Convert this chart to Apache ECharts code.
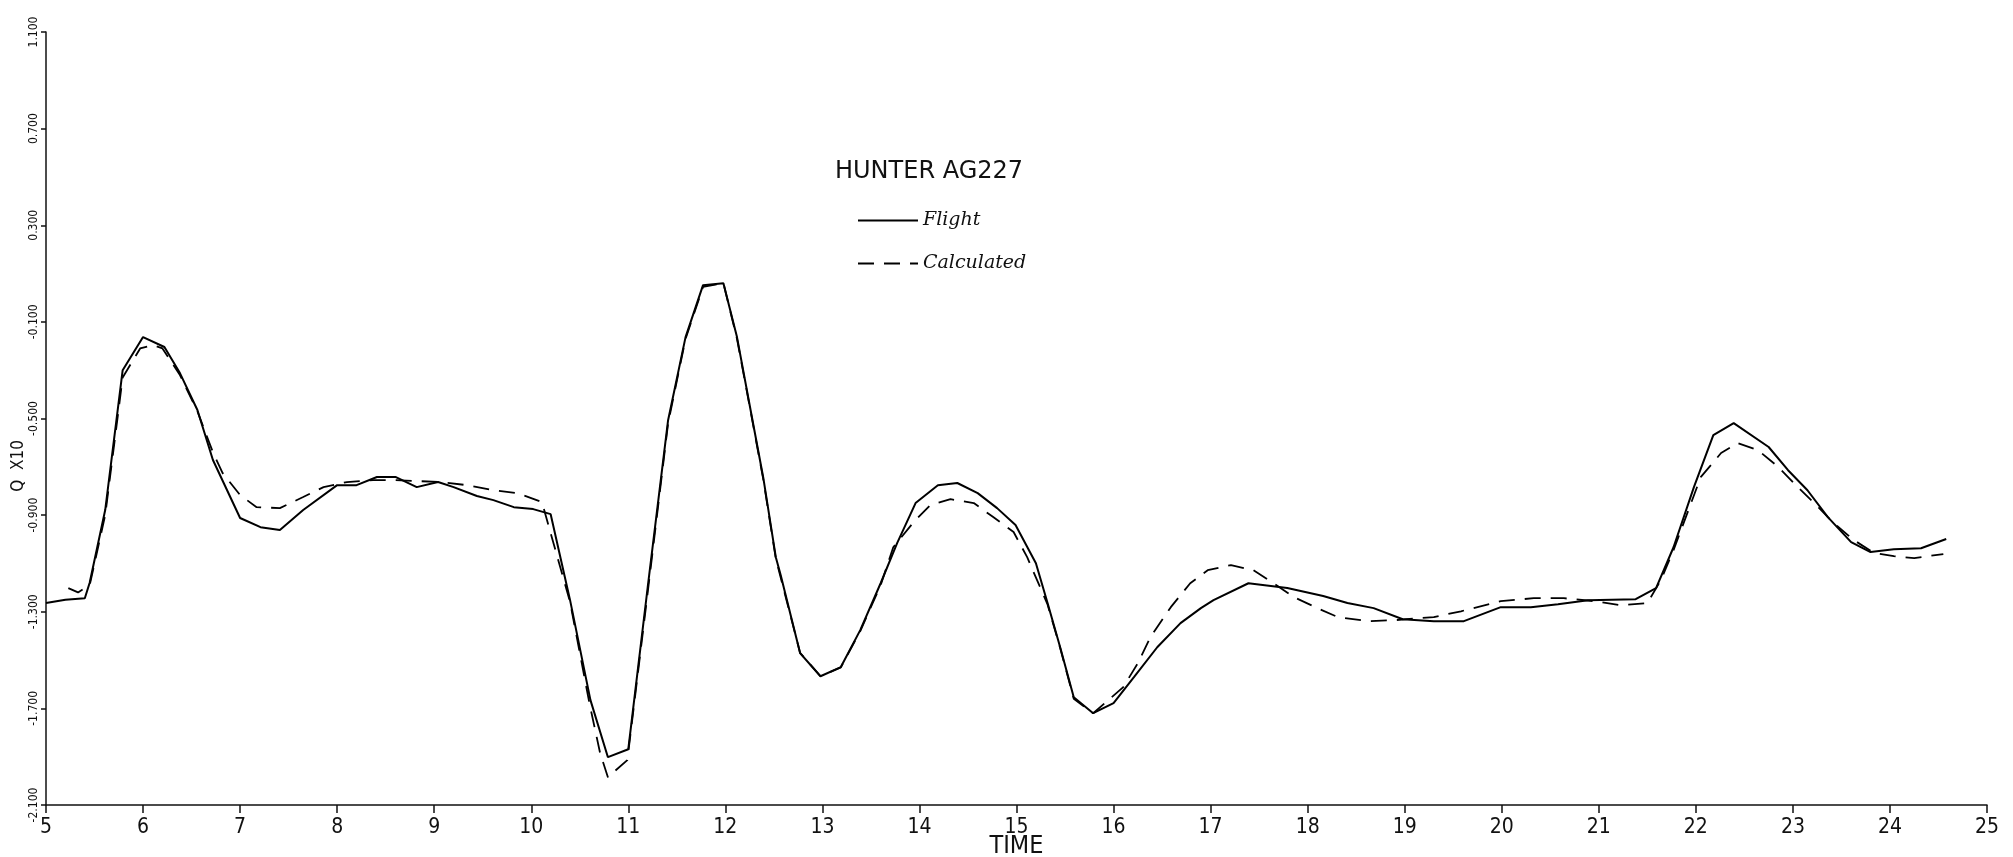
<!DOCTYPE html>
<html>
<head>
<meta charset="utf-8">
<title>HUNTER AG227</title>
<script src="https://cdn.jsdelivr.net/npm/echarts@6/dist/echarts.min.js"></script>
<style>
    html, body { margin: 0; padding: 0; background: #fff; }
    #chart { width: 2013px; height: 857px; }
</style>
</head>
<body>
<div id="chart"></div>
<script>
// Flight (solid) - time / Q
const flightTime = [5.0, 5.2, 5.4, 5.45, 5.61, 5.79, 6.0, 6.22, 6.38, 6.56, 6.72, 7.0, 7.21, 7.41, 7.65, 8.0, 8.2, 8.41, 8.6, 8.82,
    9.04, 9.2, 9.44, 9.61, 9.82, 10.02, 10.2, 10.4, 10.61, 10.79, 11.0, 11.2, 11.41, 11.59, 11.77, 11.98, 12.12, 12.26, 12.39, 12.52,
    12.57, 12.77, 12.98, 13.19, 13.39, 13.6, 13.77, 13.96, 14.19, 14.39, 14.6, 14.8, 14.99, 15.2, 15.32, 15.45, 15.59, 15.79, 16.0, 16.21,
    16.45, 16.69, 16.9, 17.03, 17.39, 17.79, 18.16, 18.41, 18.68, 18.98, 19.3, 19.61, 19.99, 20.3, 20.58, 20.89, 21.38, 21.59, 21.77, 21.98,
    22.18, 22.39, 22.75, 22.95, 23.15, 23.36, 23.6, 23.8, 24.04, 24.32, 24.58];
const flightQ = [-1.264, -1.25, -1.244, -1.18, -0.879, -0.30, -0.163, -0.204, -0.312, -0.465, -0.672, -0.912, -0.95, -0.962, -0.879, -0.776, -0.776, -0.742, -0.742, -0.784,
    -0.763, -0.784, -0.821, -0.838, -0.867, -0.875, -0.896, -1.252, -1.666, -1.902, -1.869, -1.198, -0.507, -0.163, 0.052, 0.06, -0.163, -0.465, -0.743, -1.074,
    -1.148, -1.471, -1.567, -1.529, -1.376, -1.182, -1.016, -0.85, -0.776, -0.767, -0.809, -0.871, -0.941, -1.099, -1.264, -1.447, -1.654, -1.72, -1.678, -1.571,
    -1.447, -1.347, -1.285, -1.252, -1.182, -1.202, -1.235, -1.264, -1.285, -1.331, -1.339, -1.339, -1.281, -1.281, -1.269, -1.252, -1.248, -1.202, -1.033, -0.784,
    -0.569, -0.519, -0.618, -0.714, -0.797, -0.908, -1.012, -1.053, -1.041, -1.037, -0.999];

// Calculated (dashed) - time / Q
const calcTime = [5.23, 5.33, 5.45, 5.61, 5.79, 5.97, 6.1, 6.2, 6.38, 6.56, 6.72, 6.82, 7.0, 7.17, 7.41, 7.65, 7.86, 8.1, 8.37, 8.58,
    8.82, 9.06, 9.34, 9.61, 9.86, 10.11, 10.4, 10.6, 10.71, 10.79, 10.99, 11.2, 11.41, 11.59, 11.77, 11.98, 12.12, 12.26, 12.39, 12.52,
    12.77, 12.98, 13.19, 13.39, 13.6, 13.73, 13.94, 14.11, 14.32, 14.56, 14.76, 14.97, 15.11, 15.32, 15.45, 15.59, 15.79, 16.1, 16.25, 16.38,
    16.59, 16.79, 16.97, 17.21, 17.44, 17.65, 17.86, 18.1, 18.31, 18.62, 18.89, 19.3, 19.58, 19.99, 20.33, 20.64, 20.95, 21.23, 21.5, 21.64,
    21.77, 22.05, 22.26, 22.43, 22.64, 22.85, 23.05, 23.22, 23.42, 23.63, 23.84, 24.04, 24.25, 24.55];
const calcQ = [-1.202, -1.22, -1.19, -0.9, -0.33, -0.21, -0.196, -0.21, -0.32, -0.47, -0.64, -0.726, -0.817, -0.867, -0.871, -0.825, -0.784, -0.763, -0.755, -0.755,
    -0.759, -0.763, -0.776, -0.797, -0.809, -0.846, -1.26, -1.68, -1.886, -1.985, -1.914, -1.22, -0.52, -0.17, 0.045, 0.06, -0.17, -0.47, -0.75, -1.08,
    -1.47, -1.567, -1.53, -1.38, -1.19, -1.033, -0.929, -0.859, -0.834, -0.85, -0.908, -0.97, -1.074, -1.27, -1.45, -1.66, -1.72, -1.612, -1.513, -1.405,
    -1.281, -1.182, -1.128, -1.107, -1.128, -1.182, -1.24, -1.285, -1.322, -1.339, -1.335, -1.322, -1.298, -1.256, -1.244, -1.244, -1.256, -1.273, -1.264, -1.169,
    -1.045, -0.743, -0.643, -0.602, -0.631, -0.701, -0.784, -0.85, -0.933, -1.004, -1.057, -1.07, -1.078, -1.061];

const plotFont = "'Liberation Sans Narrow', 'DejaVu Sans Condensed', sans-serif";
const handFont = "'DejaVu Serif', serif";

const chart = echarts.init(document.getElementById('chart'));
chart.setOption({
    animation: false,
    backgroundColor: '#fff',
    title: {
        text: 'HUNTER AG227',
        left: 830,
        top: 155,
        textStyle: { fontFamily: "'DejaVu Sans', sans-serif", fontSize: 24, fontWeight: 'normal', color: '#111' },
    },
    legend: {
        orient: 'vertical',
        left: 852,
        top: 206,
        itemWidth: 60,
        itemHeight: 14,
        itemGap: 24,
        itemStyle: { opacity: 0 },
        textStyle: { fontFamily: handFont, fontStyle: 'italic', fontSize: 19, color: '#111' },
        data: ['Flight', 'Calculated'],
    },
    // plotter frame: keep the grid exactly where the axes sit
    grid: { left: 46, right: 26, top: 32, bottom: 52, containLabel: false, outerBoundsMode: 'none' },
    xAxis: {
        type: 'value',
        min: 5,
        max: 25,
        interval: 1,
        name: 'TIME',
        nameLocation: 'middle',
        nameGap: 29,
        nameMoveOverlap: false,
        nameTextStyle: { fontFamily: plotFont, fontSize: 25, color: '#111' },
        axisLine: { onZero: false, lineStyle: { color: '#111', width: 1.5 } },
        axisTick: { length: 8, lineStyle: { color: '#111', width: 1.5 } },
        axisLabel: { fontFamily: plotFont, fontSize: 21, color: '#111', margin: 12 },
        splitLine: { show: false },
    },
    yAxis: {
        type: 'value',
        min: -2.1,
        max: 1.1,
        interval: 0.4,
        axisLine: { show: true, onZero: false, lineStyle: { color: '#111', width: 1.5 } },
        axisTick: { show: true, length: 5, lineStyle: { color: '#111', width: 1.5 } },
        axisLabel: {
            rotate: 90,
            fontFamily: plotFont,
            fontSize: 12,
            color: '#111',
            margin: 6,
            formatter: (v) => v.toFixed(3),
        },
        splitLine: { show: false },
    },
    graphic: [
        {
            type: 'text',
            left: 10,
            top: 440,
            rotation: Math.PI / 2,
            style: { text: 'Q  X10', fontFamily: plotFont, fontSize: 17, fill: '#111' },
        },
    ],
    series: [
        {
            name: 'Flight',
            type: 'line',
            symbol: 'none',
            data: flightTime.map((t, i) => [t, flightQ[i]]),
            lineStyle: { color: '#000', width: 2 },
            itemStyle: { color: '#000' },
        },
        {
            name: 'Calculated',
            type: 'line',
            symbol: 'none',
            data: calcTime.map((t, i) => [t, calcQ[i]]),
            lineStyle: { color: '#000', width: 1.8, type: [16, 10] },
            itemStyle: { color: '#000' },
        },
    ],
});
</script>
</body>
</html>
